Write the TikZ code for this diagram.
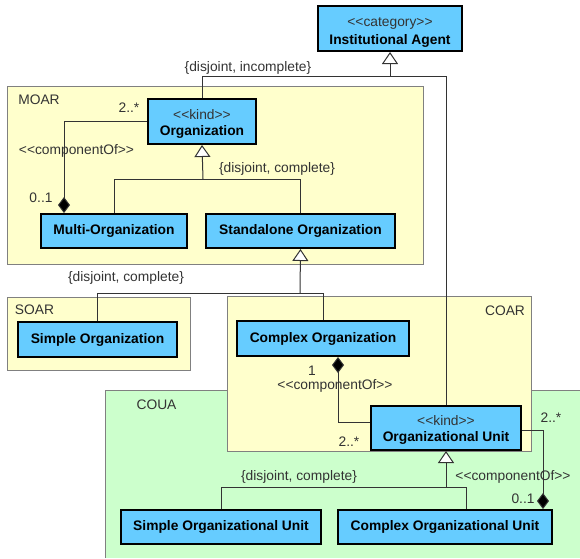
\documentclass[tikz,border=0pt]{standalone}
\usepackage{fontspec}
\setmainfont{Liberation Sans}
\usetikzlibrary{arrows.meta}
\definecolor{clsblue}{HTML}{66CCFF}
\definecolor{pkgyellow}{HTML}{FFFFCC}
\definecolor{pkggreen}{HTML}{CCFFCC}
\definecolor{pkgedge}{HTML}{808080}
\definecolor{txtgray}{HTML}{333333}
\definecolor{linegray}{HTML}{333333}
\begin{document}
\begin{tikzpicture}[x=1pt,y=-1pt,
  cls/.style={draw=black, line width=2pt, fill=clsblue, inner sep=0pt, align=center,
    font=\fontsize{13.8}{18}\selectfont\bfseries},
  clsname/.style={inner sep=0pt, anchor=base, font=\fontsize{13.8}{18}\selectfont\bfseries},
  stereo/.style={inner sep=0pt, anchor=base, text=txtgray, font=\fontsize{13.8}{18}\selectfont},
  lbl/.style={text=txtgray, inner sep=0pt, font=\fontsize{13.8}{18}\selectfont},
  pkg/.style={fill=#1, draw=pkgedge, line width=0.8pt},
  conn/.style={draw=linegray, line width=1pt},
  gen/.style={conn, -{Triangle[length=12pt,width=16pt,fill=white]}},
  whole/.style={conn, {Diamond[length=16pt,width=12pt,fill=black]}-},
]
\useasboundingbox (0,0) rectangle (580,558);

% packages
\fill[pkggreen] (105,390) rectangle (580,558);
\draw[pkgedge, line width=0.8pt] (105,558) -- (105,390) -- (580,390);
\path[pkg=pkgyellow] (227,296) rectangle (531,451);
\path[pkg=pkgyellow] (7,86) rectangle (423,264);
\path[pkg=pkgyellow] (7,297) rectangle (190,370);
\node[lbl] (pMOAR) at (39,100) {MOAR};
\node[lbl] (pSOAR) at (34.5,310) {SOAR};
\node[lbl] (pCOAR) at (505,311) {COAR};
\node[lbl] (pCOUA) at (156.5,405) {COUA};

% junction points of generalization sets
\coordinate (j1) at (390,76);
\coordinate (j2) at (203,179);
\coordinate (j3) at (300,293);
\coordinate (j4) at (446,487);

% classes
\node[cls, minimum width=144pt, minimum height=45pt] (ia) at (390,28.5) {};
\node[stereo] (iaS) at (390,26.7) {<{}<category>{}>};
\node[clsname] (iaN) at (390,44.3) {Institutional Agent};

\node[cls, minimum width=108pt, minimum height=45pt] (org) at (202,121.5) {};
\node[stereo] (orgS) at (202,119.3) {<{}<kind>{}>};
\node[clsname] (orgN) at (202,135.7) {Organization};

\node[cls, minimum width=146pt, minimum height=34pt] (multi) at (114,231) {Multi-Organization};
\node[cls, minimum width=189pt, minimum height=34pt] (stand) at (300.5,231) {Standalone Organization};
\node[cls, minimum width=159pt, minimum height=35pt] (sorg) at (97.5,339.5) {Simple Organization};
\node[cls, minimum width=172pt, minimum height=35pt] (corg) at (323,338.5) {Complex Organization};

\node[cls, minimum width=150pt, minimum height=44pt] (ou) at (446,428) {};
\node[stereo] (ouS) at (446,425.5) {<{}<kind>{}>};
\node[clsname] (ouN) at (446,441.7) {Organizational Unit};

\node[cls, minimum width=200pt, minimum height=34pt] (sou) at (221,527) {Simple Organizational Unit};
\node[cls, minimum width=214pt, minimum height=34pt] (cou) at (445,527) {Complex Organizational Unit};

% generalizations
\draw[conn] (org.north) |- (j1);
\draw[conn] (ou.north) |- (j1);
\draw[gen] (j1) -- (ia.south);

\draw[conn] (multi.north) |- (j2);
\draw[conn] (stand.north) |- (j2);
\draw[gen] (j2) -- (org.south);

\draw[conn] (sorg.north) |- (j3);
\draw[conn] (corg.north) |- (j3);
\draw[gen] (j3) -- (stand.south);

\draw[conn] (sou.north) |- (j4);
\draw[conn] ([xshift=21pt]cou.north) |- (j4);
\draw[gen] (j4) -- (ou.south);

% componentOf associations
\draw[whole] ([xshift=24pt]multi.north west) |- (org.west);
\draw[whole] ([xshift=102pt]corg.south west) |- ([yshift=6pt]ou.west);
\draw[whole] ([xshift=206pt]cou.north west) |- ([yshift=-2pt]ou.east);

% labels
\node[lbl] (gs1) at (248,68) {\{disjoint, incomplete\}};
\node[lbl] (gs2) at (277,169) {\{disjoint, complete\}};
\node[lbl] (gs3) at (126,278) {\{disjoint, complete\}};
\node[lbl] (gs4) at (299,477) {\{disjoint, complete\}};
\node[lbl] (m1) at (129,108) {2..*};
\node[lbl] (c1) at (76.5,151) {<{}<componentOf>{}>};
\node[lbl] (m2) at (41,198) {0..1};
\node[lbl] (m3) at (312,371) {1};
\node[lbl] (c2) at (335,386) {<{}<componentOf>{}>};
\node[lbl] (m4) at (349,442) {2..*};
\node[lbl] (m5) at (551,418) {2..*};
\node[lbl] (c3) at (513,477) {<{}<componentOf>{}>};
\node[lbl] (m6) at (523,499) {0..1};
\end{tikzpicture}
\end{document}
